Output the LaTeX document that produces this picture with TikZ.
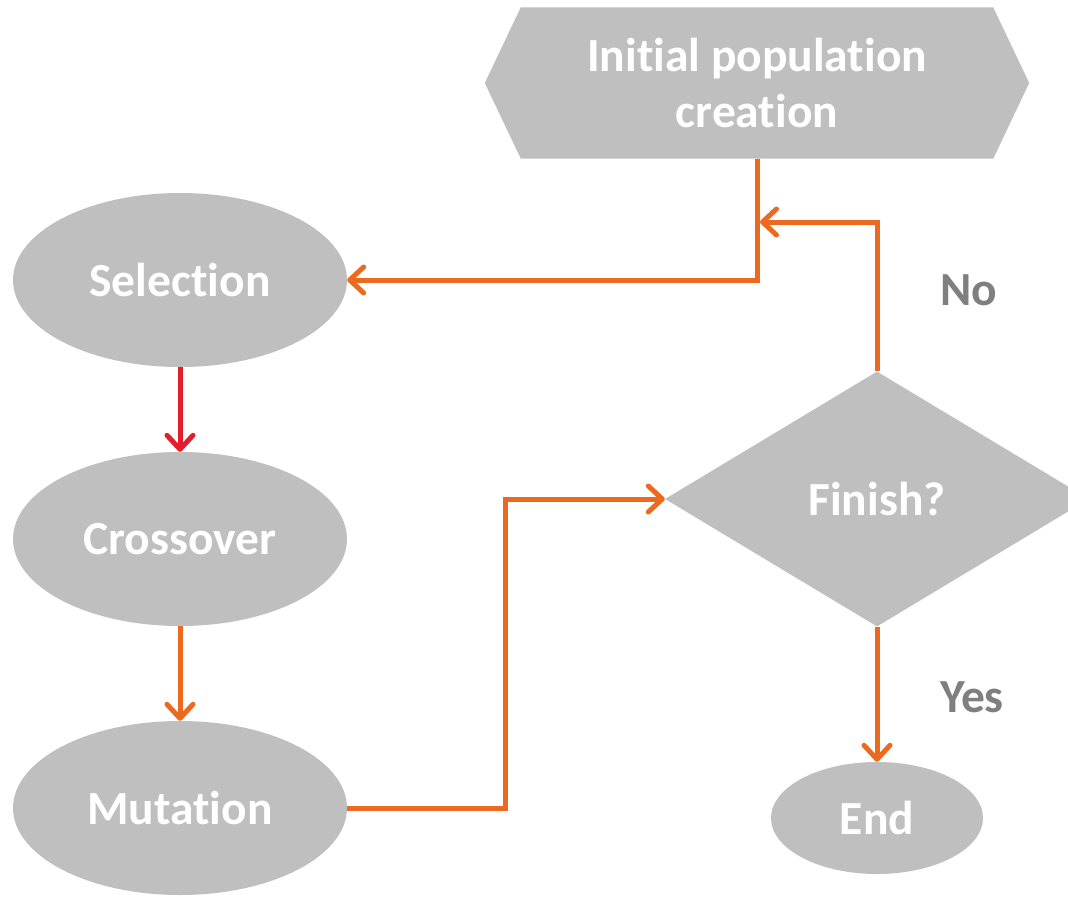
\documentclass[tikz,border=0pt]{standalone}
\usepackage{fontspec}
\setmainfont{Carlito}[Ligatures={NoCommon}]
\usetikzlibrary{shapes.geometric,arrows.meta,backgrounds}
\definecolor{boxgray}{RGB}{191,191,191}
\definecolor{lineorange}{RGB}{235,106,31}
\definecolor{linered}{RGB}{226,30,45}
\definecolor{labelgray}{RGB}{127,127,127}
\begin{document}
\begin{tikzpicture}[x=1pt,y=-1pt,
  boxtext/.style={text=white,font=\fontsize{47.5}{56}\selectfont\bfseries,align=center},
  oval/.style={ellipse,fill=boxgray,inner sep=0pt,boxtext,minimum width=334pt,minimum height=174pt},
  conn/.style={line width=5pt,draw=lineorange,
    -{Straight Barb[length=14pt,width=26pt,line width=5pt,round]}},
  lbl/.style={text=labelgray,font=\fontsize{47.5}{56}\selectfont\bfseries}]
\useasboundingbox (0,0) rectangle (1068,897);
\clip (0,0) rectangle (1068,897);
% nodes
\node[boxtext,minimum width=472pt,minimum height=151pt,inner sep=0pt] (init) at (757,83) {Initial population\\creation};
\begin{scope}[on background layer]
\fill[boxgray] (init.north west) -- (init.north east) -- ([xshift=36pt]init.east)
  -- (init.south east) -- (init.south west) -- ([xshift=-36pt]init.west) -- cycle;
\end{scope}
\node[oval] (sel) at (180,280) {Selection};
\node[oval] (cross) at (180,539) {Crossover};
\node[oval] (mut) at (180,808) {Mutation};
\node[diamond,fill=boxgray,inner sep=0pt,boxtext,minimum width=424pt,minimum height=255pt,aspect=1.66] (fin) at (877,499) {Finish?};
\node[ellipse,fill=boxgray,inner sep=0pt,boxtext,minimum width=212pt,minimum height=112pt] (end) at (877,818) {End};
\node[lbl] (no) at (969,290) {No};
\node[lbl] (yes) at (972,697) {Yes};
\coordinate (j1) at (505,499);
\coordinate (j2) at (760,222);
% connectors
\draw[conn,draw=linered] (sel) -- (cross);
\draw[conn] (cross) -- (mut);
\draw[conn] (mut.east) -| (j1) -- (fin.west);
\draw[conn] (fin.north) |- (j2);
\draw[conn] (init.south) |- (sel.east);
\draw[conn] (fin.south) -- (end.north);
\end{tikzpicture}
\end{document}
